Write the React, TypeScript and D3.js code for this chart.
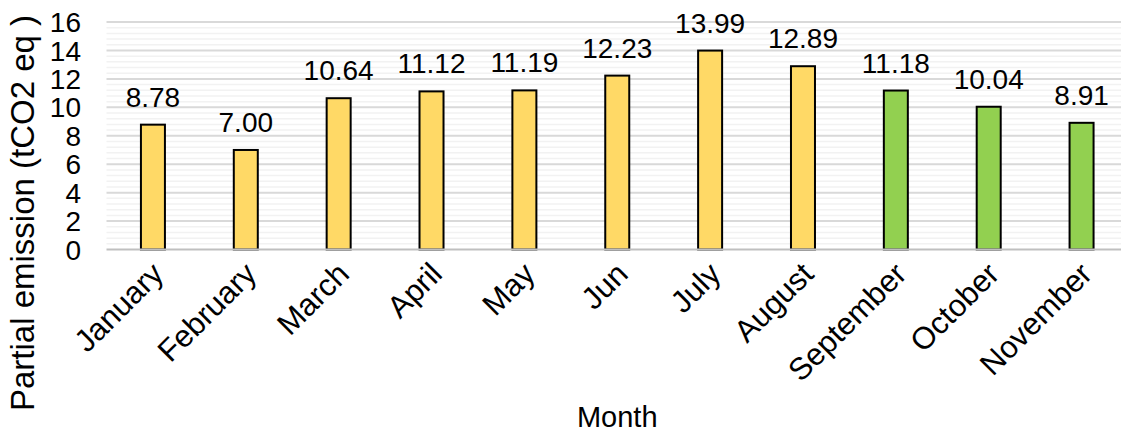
import React, { useEffect, useRef } from "react";
import * as d3 from "d3";

const months = [
  "January", "February", "March", "April", "May", "Jun",
  "July", "August", "September", "October", "November",
];
const emissions = [8.78, 7.0, 10.64, 11.12, 11.19, 12.23, 13.99, 12.89, 11.18, 10.04, 8.91];
// first eight months in one group, the last three in another
const groups = ["a", "a", "a", "a", "a", "a", "a", "a", "b", "b", "b"];
const yTicks = [0, 2, 4, 6, 8, 10, 12, 14, 16];

const W = 1121;
const H = 432;

const App: React.FC = () => {
  const ref = useRef<SVGSVGElement | null>(null);

  useEffect(() => {
    if (!ref.current) return;
    const svg = d3.select(ref.current);
    svg.selectAll("*").remove();

    const font = "'Liberation Sans', Arial, sans-serif";
    const left = 106.5;
    const right = 1128;
    const top = 22;
    const bottom = 249.5;

    const p = 1 - 24 / ((right - left) / months.length);
    const x = d3.scaleBand<string>().domain(months).range([left, right]).paddingInner(p).paddingOuter(p / 2);
    const y = d3.scaleLinear().domain([0, 16]).range([bottom, top]);
    const color = d3.scaleOrdinal<string, string>().domain(["a", "b"]).range(["#FFD966", "#92D050"]);

    // minor grid
    const minor = d3.range(0, 16.001, 0.4).filter((v) => Math.abs(v / 2 - Math.round(v / 2)) > 1e-6);
    svg
      .append("g")
      .selectAll("line")
      .data(minor)
      .enter()
      .append("line")
      .attr("x1", left)
      .attr("x2", W)
      .attr("y1", (d) => y(d))
      .attr("y2", (d) => y(d))
      .attr("stroke", "#f2f2f2")
      .attr("stroke-width", 1.5);

    // major grid
    svg
      .append("g")
      .selectAll("line")
      .data(yTicks.filter((d) => d > 0))
      .enter()
      .append("line")
      .attr("x1", left)
      .attr("x2", W)
      .attr("y1", (d) => y(d))
      .attr("y2", (d) => y(d))
      .attr("stroke", "#d9d9d9")
      .attr("stroke-width", 2);

    // y tick labels
    svg
      .append("g")
      .selectAll("text")
      .data(yTicks)
      .enter()
      .append("text")
      .attr("x", 81)
      .attr("y", (d) => y(d))
      .attr("dy", "0.36em")
      .attr("text-anchor", "end")
      .style("font-family", font)
      .style("font-size", "28px")
      .text((d) => d);

    // bars
    svg
      .append("g")
      .selectAll("rect")
      .data(emissions)
      .enter()
      .append("rect")
      .attr("x", (d, i) => x(months[i])!)
      .attr("y", (d) => y(d))
      .attr("width", x.bandwidth())
      .attr("height", (d) => y(0) - y(d))
      .attr("fill", (d, i) => color(groups[i]))
      .attr("stroke", "#000")
      .attr("stroke-width", 2);

    // x axis line
    svg
      .append("line")
      .attr("x1", left)
      .attr("x2", W)
      .attr("y1", y(0))
      .attr("y2", y(0))
      .attr("stroke", "#bfbfbf")
      .attr("stroke-width", 2);

    // data labels
    svg
      .append("g")
      .selectAll("text")
      .data(emissions)
      .enter()
      .append("text")
      .attr("x", (d, i) => x(months[i])! + x.bandwidth() / 2)
      .attr("y", (d) => y(d) - 18)
      .attr("text-anchor", "middle")
      .style("font-family", font)
      .style("font-size", "28px")
      .text((d) => d.toFixed(2));

    // x labels, rotated
    svg
      .append("g")
      .selectAll("text")
      .data(months)
      .enter()
      .append("text")
      .attr("transform", (d) => `translate(${x(d)! + x.bandwidth() / 2 - 3},${bottom + 11}) rotate(-45)`)
      .attr("dy", "0.7em")
      .attr("text-anchor", "end")
      .style("font-family", font)
      .style("font-size", "31px")
      .text((d) => d);

    // axis titles
    svg
      .append("text")
      .attr("x", (left + right) / 2)
      .attr("y", 427)
      .attr("text-anchor", "middle")
      .style("font-family", font)
      .style("font-size", "29px")
      .text("Month");

    svg
      .append("text")
      .attr("transform", `translate(34,213) rotate(-90)`)
      .attr("text-anchor", "middle")
      .style("font-family", font)
      .style("font-size", "33px")
      .text("Partial emission (tCO2 eq )");
  }, []);

  return (
    <svg
      ref={ref}
      width={W}
      height={H}
      style={{ position: "absolute", left: 0, top: 0, background: "#fff" }}
    />
  );
};

export default App;
